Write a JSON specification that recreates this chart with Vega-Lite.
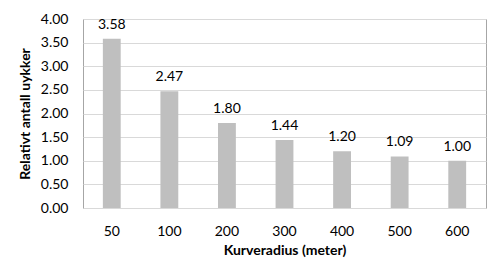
{
  "$schema": "https://vega.github.io/schema/vega-lite/v6.json",
  "width": 403,
  "height": 189,
  "autosize": {"type": "none"},
  "padding": {"left": 83, "top": 19, "right": 13, "bottom": 58},
  "background": "white",
  "config": {
    "font": "Lato",
    "view": {"stroke": "#a6a6a6", "strokeWidth": 1}
  },
  "data": {
    "values": [
      {"radius": "50", "value": 3.58},
      {"radius": "100", "value": 2.47},
      {"radius": "200", "value": 1.80},
      {"radius": "300", "value": 1.44},
      {"radius": "400", "value": 1.20},
      {"radius": "500", "value": 1.09},
      {"radius": "600", "value": 1.00}
    ]
  },
  "encoding": {
    "x": {
      "field": "radius",
      "type": "nominal",
      "sort": null,
      "scale": {"paddingInner": 0.69, "paddingOuter": 0.345},
      "axis": {
        "title": "Kurveradius (meter)",
        "titleFontSize": 14,
        "titleFontWeight": "bold",
        "titleColor": "#000000",
        "titlePadding": 5,
        "labelAngle": 0,
        "labelFontSize": 14,
        "labelColor": "#000000",
        "labelPadding": 16,
        "ticks": false,
        "domain": false
      }
    },
    "y": {
      "field": "value",
      "type": "quantitative",
      "scale": {"domain": [0, 4], "nice": false},
      "axis": {
        "title": "Relativt antall uykker",
        "titleFontSize": 14,
        "titleFontWeight": "bold",
        "titleColor": "#000000",
        "titlePadding": 8,
        "values": [0, 0.5, 1, 1.5, 2, 2.5, 3, 3.5, 4],
        "format": ".2f",
        "labelFontSize": 14,
        "labelColor": "#000000",
        "labelPadding": 15,
        "ticks": false,
        "domain": false,
        "grid": true,
        "gridColor": "#d9d9d9",
        "gridWidth": 1
      }
    }
  },
  "layer": [
    {"mark": {"type": "bar", "color": "#bfbfbf"}},
    {
      "mark": {"type": "text", "baseline": "alphabetic", "dy": -10, "fontSize": 14, "color": "#000000"},
      "encoding": {"text": {"field": "value", "type": "quantitative", "format": ".2f"}}
    }
  ]
}
